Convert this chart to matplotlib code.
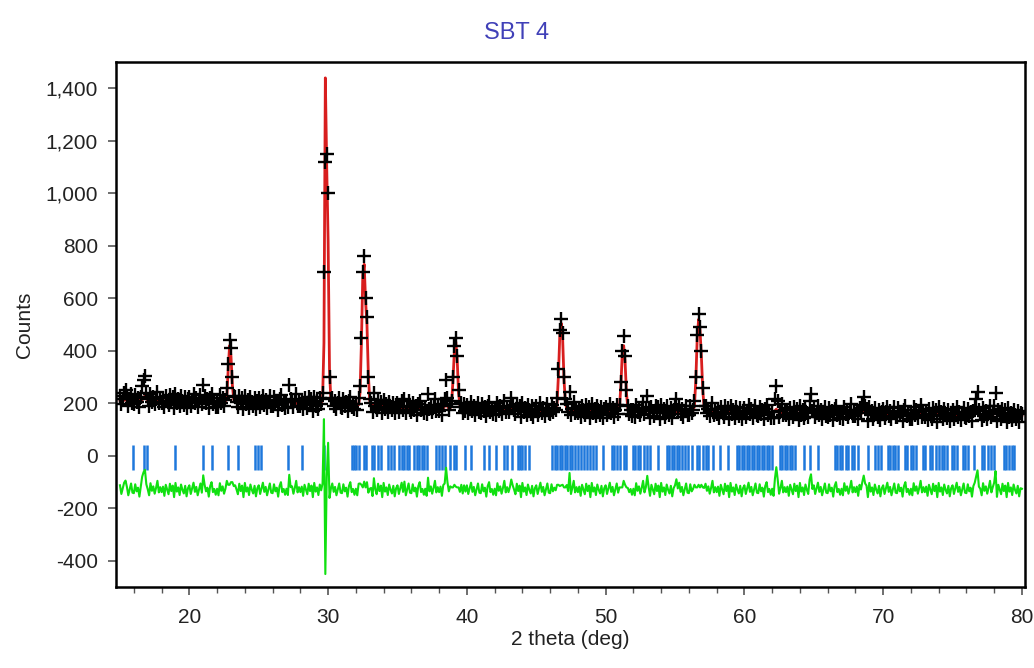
import numpy as np
import matplotlib.pyplot as plt
from matplotlib.ticker import FuncFormatter, MultipleLocator

plt.rcParams['font.family'] = ['Liberation Sans', 'DejaVu Sans']

# scan grid, 0.1 deg steps from 15 to 80
two_theta = np.round(np.arange(150, 801) / 10.0, 1)

# observed counts, one row per degree (15.0-15.9, 16.0-16.9, ...)
y_obs = [
    230, 197, 218, 240, 250, 224, 192, 215, 237, 202,
    199, 233, 206, 220, 186, 226, 265, 290, 305, 240,
    215, 190, 236, 207, 224, 196, 218, 245, 201, 221,
    201, 222, 187, 229, 211, 193, 233, 205, 226, 182,
    235, 202, 218, 189, 229, 209, 195, 224, 184, 215,
    225, 192, 213, 235, 200, 219, 187, 210, 232, 197,
    270, 228, 201, 215, 181, 221, 236, 198, 210, 188,
    210, 185, 231, 202, 219, 191, 213, 260, 350, 440,
    410, 300, 230, 224, 206, 188, 228, 200, 221, 177,
    230, 197, 213, 184, 224, 204, 190, 219, 179, 210,
    220, 187, 208, 230, 195, 214, 182, 205, 227, 192,
    189, 223, 196, 210, 176, 216, 231, 193, 205, 183,
    205, 185, 270, 215, 214, 186, 208, 235, 191, 211,
    191, 212, 177, 219, 201, 183, 223, 195, 216, 172,
    225, 192, 208, 179, 219, 199, 240, 700, 1120, 1150,
    1000, 300, 215, 222, 190, 209, 177, 200, 222, 187,
    183, 217, 190, 204, 170, 210, 225, 187, 199, 177,
    198, 173, 219, 265, 450, 700, 762, 600, 530, 300,
    215, 203, 168, 240, 192, 174, 214, 186, 207, 163,
    213, 180, 196, 167, 207, 187, 173, 202, 162, 193,
    201, 168, 189, 211, 176, 215, 163, 186, 208, 173,
    169, 203, 176, 190, 156, 196, 211, 173, 185, 163,
    185, 160, 235, 177, 194, 166, 188, 215, 171, 191,
    171, 192, 157, 199, 215, 290, 220, 175, 196, 210,
    300, 420, 448, 380, 250, 185, 200, 165, 196, 172,
    195, 162, 183, 205, 170, 189, 157, 180, 202, 167,
    164, 198, 171, 185, 151, 191, 206, 168, 180, 158,
    180, 155, 201, 172, 189, 161, 183, 210, 166, 186,
    166, 187, 220, 194, 176, 158, 198, 170, 191, 147,
    200, 167, 183, 154, 194, 174, 160, 189, 149, 180,
    190, 157, 178, 200, 165, 184, 152, 175, 197, 162,
    160, 194, 167, 181, 175, 220, 330, 480, 523, 470,
    300, 215, 197, 168, 245, 157, 179, 206, 162, 182,
    163, 184, 149, 191, 173, 155, 195, 167, 188, 144,
    197, 164, 180, 151, 191, 171, 157, 186, 146, 177,
    188, 155, 176, 198, 163, 182, 150, 173, 195, 160,
    195, 280, 400, 455, 380, 250, 190, 161, 173, 151,
    174, 149, 195, 166, 183, 155, 177, 204, 160, 180,
    230, 181, 146, 188, 170, 152, 192, 164, 185, 141,
    195, 162, 178, 149, 189, 169, 155, 184, 144, 175,
    185, 215, 173, 195, 160, 179, 147, 170, 192, 157,
    155, 189, 162, 176, 210, 300, 460, 540, 490, 400,
    260, 190, 192, 163, 180, 152, 174, 201, 157, 177,
    158, 179, 144, 186, 168, 150, 190, 162, 183, 139,
    192, 159, 175, 146, 186, 166, 152, 181, 141, 172,
    183, 150, 171, 193, 158, 177, 145, 168, 190, 155,
    152, 186, 159, 173, 139, 179, 194, 156, 168, 146,
    169, 144, 215, 265, 210, 150, 172, 199, 155, 175,
    155, 176, 141, 183, 165, 147, 187, 159, 180, 136,
    190, 157, 173, 144, 184, 164, 150, 210, 235, 170,
    180, 147, 168, 190, 155, 174, 142, 165, 187, 152,
    150, 184, 157, 171, 137, 177, 192, 154, 166, 144,
    166, 141, 187, 158, 175, 147, 169, 196, 152, 172,
    153, 174, 139, 181, 163, 195, 225, 190, 178, 134,
    187, 154, 170, 141, 181, 161, 147, 176, 136, 167,
    178, 145, 166, 188, 153, 172, 140, 163, 185, 150,
    147, 181, 154, 168, 134, 174, 189, 151, 163, 141,
    164, 139, 185, 156, 173, 145, 167, 194, 150, 170,
    150, 171, 136, 178, 160, 142, 182, 154, 175, 131,
    185, 152, 168, 139, 179, 159, 145, 174, 134, 165,
    175, 142, 163, 185, 150, 169, 137, 160, 182, 147,
    145, 179, 152, 166, 132, 172, 187, 215, 245, 175,
    161, 136, 182, 153, 170, 142, 164, 191, 147, 167,
    190, 240, 134, 176, 158, 140, 180, 152, 173, 129,
    182, 149, 165, 136, 176, 156, 142, 171, 131, 162,
    160,
]

# calculated profile, same rows
y_calc = [
    212, 212, 212, 212, 214, 212, 212, 212, 212, 212,
    211, 211, 211, 211, 211, 212, 214, 222, 228, 218,
    212, 210, 210, 210, 210, 210, 210, 210, 210, 210,
    209, 209, 209, 209, 209, 209, 209, 209, 209, 209,
    208, 208, 208, 208, 208, 208, 208, 208, 208, 208,
    207, 207, 207, 207, 207, 207, 207, 207, 207, 207,
    214, 208, 206, 206, 206, 206, 206, 206, 206, 206,
    205, 205, 205, 205, 205, 205, 208, 225, 330, 420,
    380, 270, 215, 206, 204, 204, 204, 204, 204, 204,
    203, 203, 203, 203, 203, 203, 203, 203, 203, 203,
    202, 202, 202, 202, 202, 202, 202, 202, 202, 202,
    201, 201, 201, 201, 201, 201, 201, 201, 201, 201,
    200, 204, 212, 204, 200, 200, 200, 200, 200, 200,
    199, 199, 199, 199, 199, 199, 199, 199, 199, 199,
    198, 198, 198, 198, 198, 200, 215, 430, 1440, 1100,
    820, 330, 210, 197, 197, 197, 197, 197, 197, 197,
    195, 195, 195, 195, 195, 195, 195, 195, 195, 195,
    193, 193, 195, 240, 430, 690, 730, 590, 500, 310,
    210, 195, 191, 195, 190, 190, 190, 190, 190, 190,
    186, 186, 186, 186, 186, 186, 186, 186, 186, 186,
    183, 183, 183, 183, 183, 183, 183, 183, 183, 183,
    181, 181, 181, 181, 181, 181, 181, 181, 181, 181,
    180, 182, 188, 182, 180, 180, 180, 180, 180, 180,
    179, 179, 179, 180, 190, 205, 190, 180, 182, 200,
    290, 400, 435, 370, 240, 192, 180, 178, 178, 178,
    177, 177, 177, 177, 177, 177, 177, 177, 177, 177,
    176, 176, 176, 176, 176, 176, 176, 176, 176, 176,
    175, 175, 175, 175, 175, 175, 175, 175, 175, 175,
    174, 176, 180, 176, 174, 174, 174, 174, 174, 174,
    173, 173, 173, 173, 173, 173, 173, 173, 173, 173,
    172, 172, 172, 172, 172, 172, 172, 172, 172, 172,
    172, 172, 172, 172, 176, 200, 310, 465, 505, 450,
    290, 205, 178, 172, 180, 172, 171, 171, 171, 171,
    171, 171, 171, 171, 171, 171, 171, 171, 171, 171,
    170, 170, 170, 170, 170, 170, 170, 170, 170, 170,
    170, 170, 170, 170, 170, 170, 170, 170, 170, 170,
    185, 270, 390, 420, 360, 240, 182, 169, 169, 169,
    169, 169, 169, 169, 169, 169, 169, 169, 169, 169,
    176, 170, 168, 168, 168, 168, 168, 168, 168, 168,
    168, 168, 168, 168, 168, 168, 168, 168, 168, 168,
    167, 174, 167, 167, 167, 167, 167, 167, 167, 167,
    167, 167, 167, 172, 190, 290, 450, 520, 480, 380,
    250, 182, 168, 166, 166, 166, 166, 166, 166, 166,
    166, 166, 166, 166, 166, 166, 166, 166, 166, 166,
    165, 165, 165, 165, 165, 165, 165, 165, 165, 165,
    165, 165, 165, 165, 165, 165, 165, 165, 165, 165,
    164, 164, 164, 164, 164, 164, 164, 164, 164, 164,
    164, 166, 172, 178, 170, 164, 164, 164, 164, 164,
    163, 163, 163, 163, 163, 163, 163, 163, 163, 163,
    163, 163, 163, 163, 163, 163, 165, 170, 175, 166,
    162, 162, 162, 162, 162, 162, 162, 162, 162, 162,
    162, 162, 162, 162, 162, 162, 162, 162, 162, 162,
    161, 161, 161, 161, 161, 161, 161, 161, 161, 161,
    161, 161, 161, 161, 161, 164, 170, 165, 161, 161,
    160, 160, 160, 160, 160, 160, 160, 160, 160, 160,
    160, 160, 160, 160, 160, 160, 160, 160, 160, 160,
    159, 159, 159, 159, 159, 159, 159, 159, 159, 159,
    159, 159, 159, 159, 159, 159, 159, 159, 159, 159,
    158, 158, 158, 158, 158, 158, 158, 158, 158, 158,
    158, 158, 158, 158, 158, 158, 158, 158, 158, 158,
    157, 157, 157, 157, 157, 157, 157, 157, 157, 157,
    157, 157, 157, 157, 157, 157, 159, 164, 170, 162,
    156, 156, 156, 156, 156, 156, 156, 156, 156, 156,
    162, 168, 160, 156, 156, 156, 156, 156, 156, 156,
    155, 155, 155, 155, 155, 155, 155, 155, 155, 155,
    155,
]

diff_offset = -130

# Bragg reflection positions
reflections = [
    15.96, 16.71, 16.93, 19.0, 20.97, 21.65, 22.77, 23.54, 24.74, 24.93,
    25.18, 27.1, 28.11, 29.7,
    31.75, 31.9, 32.04, 32.26, 32.6, 32.76, 33.19, 33.3, 33.63, 33.84,
    34.35, 34.56, 34.78, 35.14, 35.3, 35.5, 35.7, 35.86, 36.22, 36.4,
    36.58, 36.75, 36.94, 37.16, 37.81, 38.0, 38.24, 38.45, 38.75, 39.1,
    39.25, 39.83, 40.33, 41.27, 41.63, 42.13, 42.71, 42.9, 43.22, 43.65,
    43.8, 44.0, 44.2, 44.5,
    46.17, 46.35, 46.53, 46.7, 46.89, 47.05, 47.25, 47.45, 47.6, 47.8,
    48.0, 48.2, 48.45, 48.65, 48.85, 49.06, 49.27, 49.78, 50.43, 50.6,
    50.8, 51.0, 51.3, 51.5, 51.95, 52.1, 52.3, 52.45, 52.8, 53.0,
    53.17, 53.74, 54.39, 54.55, 54.75, 54.95, 55.11, 55.3, 55.47, 55.7,
    55.9, 56.2, 56.55, 56.7, 56.99, 57.2, 57.35, 57.71, 58.21, 58.79,
    59.44, 59.6, 59.8, 60.0, 60.16, 60.35, 60.52, 60.7, 60.88, 61.05,
    61.24, 61.4, 61.6, 61.8, 61.96, 62.54, 62.7, 62.9, 63.1, 63.26,
    63.45, 63.62, 64.27, 64.7, 65.28, 66.5, 66.7, 66.86, 67.05, 67.3,
    67.5, 67.73, 67.9, 68.16, 68.88, 69.39, 69.6, 69.82, 70.32, 70.5,
    70.68, 70.85, 71.04, 71.55, 71.75, 71.98, 72.15, 72.34, 72.85, 73.05,
    73.35, 73.55, 73.79, 74.0, 74.22, 74.4, 74.58, 74.94, 75.1, 75.3,
    75.73, 75.9, 76.09, 76.52, 77.1, 77.3, 77.53, 77.75, 77.97, 78.69,
    78.85, 79.05, 79.25, 79.41,
]

obs = np.array(y_obs)
calc = np.array(y_calc)
diff = obs - calc + diff_offset

fig = plt.figure(figsize=(10.34, 6.68), dpi=100)
ax = fig.add_axes([0.112, 0.121, 0.879, 0.786])

ax.plot(two_theta, calc, '-', color='#d81e1e', lw=2.0, zorder=2)
ax.plot(two_theta, obs, '+', color='black', ms=10, mew=1.7, zorder=3)
ax.vlines(reflections, -55, 40, color='#1e78dc', lw=1.8)
ax.plot(two_theta, diff, '-', color='#10e010', lw=1.5)

ax.set_xlim(14.7, 80.2)
ax.set_ylim(-500, 1500)
ax.xaxis.set_major_locator(MultipleLocator(10))
ax.xaxis.set_minor_locator(MultipleLocator(2))
ax.yaxis.set_major_locator(MultipleLocator(200))
ax.yaxis.set_major_formatter(FuncFormatter(lambda v, p: f'{v:,.0f}'))

ax.tick_params(axis='both', which='major', labelsize=15, length=6, width=1.2,
               color='#555555', labelcolor='#222222')
ax.tick_params(axis='x', which='major', pad=9)
ax.tick_params(axis='y', which='major', pad=7)
ax.tick_params(axis='x', which='minor', length=4, width=1, color='#555555')
for s in ax.spines.values():
    s.set_linewidth(1.8)
    s.set_color('black')

ax.set_xlabel('2 theta (deg)', fontsize=15, labelpad=2, color='#222222')
ax.set_ylabel('Counts', fontsize=15, labelpad=8, color='#222222')
fig.text(0.5, 0.95, 'SBT 4', ha='center', va='center', fontsize=17, color='#4040b8')

plt.savefig('out.png', dpi=100)
